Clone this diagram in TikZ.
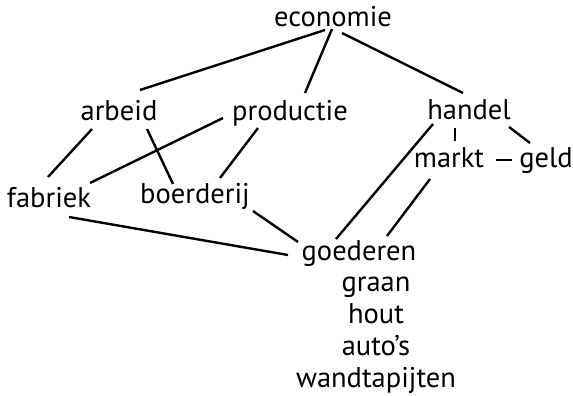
\documentclass[tikz,border=0pt]{standalone}
\usepackage{fontspec}
\setmainfont{PT Sans}
\usetikzlibrary{calc}
\begin{document}
\begin{tikzpicture}[x=1pt,y=-1pt,
  lbl/.style={font=\fontsize{28.5}{34}\selectfont, inner sep=0pt, anchor=base},
  conn/.style={line width=2.4pt, line cap=butt}]
\useasboundingbox (0,0) rectangle (573,396);
\node[lbl] (economie) at (333,27) {economie};
\node[lbl] (arbeid) at (119,120) {arbeid};
\node[lbl] (productie) at (290,120) {productie};
\node[lbl] (handel) at (469,119) {handel};
\node[lbl] (markt) at (449,167) {markt};
\node[lbl] (geld) at (546,167) {geld};
\node[lbl] (fabriek) at (49,207) {fabriek};
\node[lbl] (boerderij) at (195,203) {boerderij};
\node[lbl] (goederen) at (359,260) {goederen};
\node[lbl] (graan) at (376,291) {graan};
\node[lbl] (hout) at (376,323) {hout};
\node[lbl] (autos) at (376,355) {auto’s};
\node[lbl] (wandtapijten) at (376,387) {wandtapijten};
\draw[conn] ($(economie.base)+(-8,3)$) -- ($(arbeid.base)+(21,-30)$);
\draw[conn] ($(economie.base)+(-1,2)$) -- ($(productie.base)+(15,-27)$);
\draw[conn] ($(economie.base)+(9,6)$) -- ($(handel.base)+(-6,-26)$);
\draw[conn] ($(arbeid.base)+(-27,9)$) -- ($(fabriek.base)+(-1,-30)$);
\draw[conn] ($(arbeid.base)+(28,9)$) -- ($(boerderij.base)+(-22,-19)$);
\draw[conn] ($(productie.base)+(-67,-2)$) -- ($(fabriek.base)+(41,-24)$);
\draw[conn] ($(productie.base)+(-32,8)$) -- ($(boerderij.base)+(25,-25)$);
\draw[conn] ($(handel.base)+(-14,9)$) -- ($(markt.base)+(6,-26)$);
\draw[conn] ($(handel.base)+(40,8)$) -- ($(geld.base)+(-16,-24)$);
\draw[conn] ($(markt.base)+(47,-7)$) -- ($(geld.base)+(-34,-7)$);
\draw[conn] ($(handel.base)+(-36,5)$) -- ($(goederen.base)+(-23,-21)$);
\draw[conn] ($(markt.base)+(-19,12)$) -- ($(goederen.base)+(28,-24)$);
\draw[conn] ($(boerderij.base)+(58,8)$) -- ($(goederen.base)+(-61,-18)$);
\draw[conn] ($(fabriek.base)+(20,10)$) -- ($(goederen.base)+(-71,-5)$);
\end{tikzpicture}
\end{document}
